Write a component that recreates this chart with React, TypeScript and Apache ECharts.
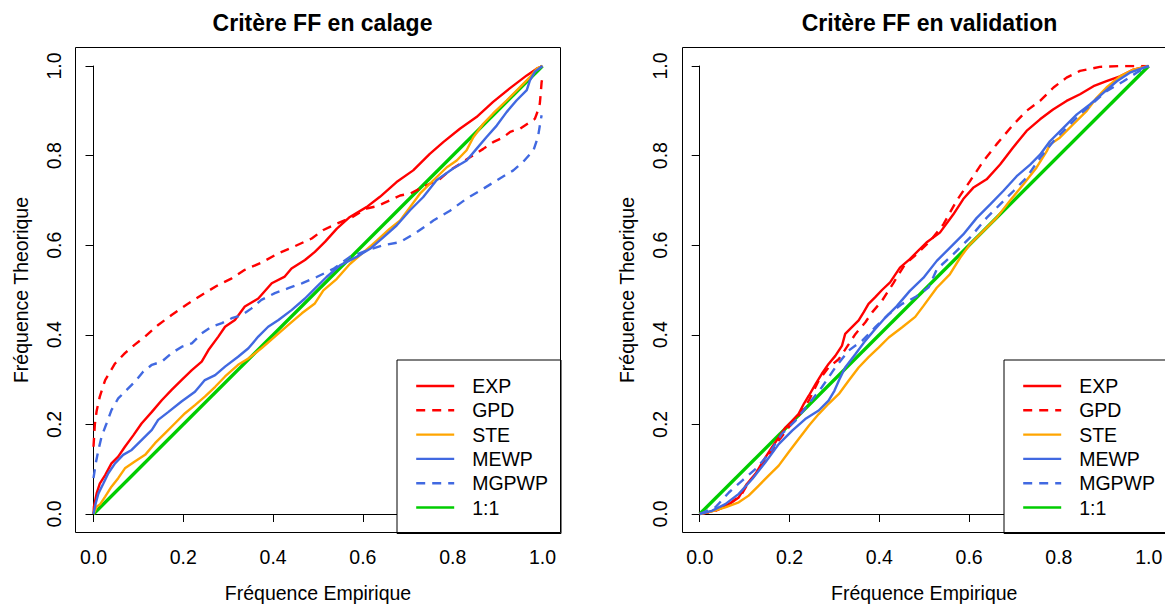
import React, { useEffect, useRef } from "react";
import * as echarts from "echarts";

type Pt = [number, number];

const seriesNames = ["EXP", "GPD", "STE", "MEWP", "MGPWP", "1:1"];
const titles = ["Critère FF en calage", "Critère FF en validation"];
const xTitle = "Fréquence Empirique";
const yTitle = "Fréquence Theorique";

const oneToOne: Pt[] = [[0, 0], [1, 1]];

// ---- Calage ----
const calEXP: Pt[] = [[0,0],[0.001,0.016],[0.007,0.046],[0.014,0.068],[0.026,0.087],[0.040,0.113],[0.055,0.128],[0.070,0.150],[0.089,0.176],[0.107,0.202],[0.130,0.228],[0.152,0.254],[0.174,0.277],[0.196,0.299],[0.219,0.321],[0.241,0.340],[0.256,0.366],[0.278,0.396],[0.293,0.418],[0.315,0.433],[0.337,0.463],[0.367,0.481],[0.397,0.515],[0.426,0.530],[0.441,0.548],[0.471,0.567],[0.493,0.585],[0.516,0.608],[0.542,0.637],[0.571,0.663],[0.608,0.685],[0.638,0.708],[0.675,0.741],[0.712,0.767],[0.749,0.804],[0.779,0.830],[0.816,0.860],[0.853,0.886],[0.890,0.920],[0.927,0.950],[0.965,0.979],[0.987,0.994],[1,1]];
const calGPD: Pt[] = [[0,0.15],[0.003,0.20],[0.007,0.23],[0.014,0.262],[0.026,0.299],[0.048,0.336],[0.070,0.359],[0.092,0.378],[0.115,0.396],[0.144,0.422],[0.174,0.444],[0.207,0.467],[0.241,0.489],[0.274,0.509],[0.308,0.526],[0.337,0.545],[0.374,0.561],[0.412,0.582],[0.449,0.598],[0.486,0.615],[0.512,0.634],[0.542,0.648],[0.575,0.662],[0.608,0.682],[0.631,0.687],[0.66,0.70],[0.683,0.711],[0.705,0.715],[0.734,0.730],[0.772,0.748],[0.794,0.767],[0.835,0.794],[0.868,0.815],[0.890,0.830],[0.913,0.841],[0.928,0.853],[0.95,0.86],[0.965,0.870],[0.983,0.882],[0.99,0.901],[0.994,0.916],[0.996,0.938],[0.998,0.964],[1.0,0.975]];
const calSTE: Pt[] = [[0,0],[0.007,0.016],[0.015,0.022],[0.026,0.039],[0.040,0.061],[0.055,0.080],[0.070,0.102],[0.092,0.117],[0.115,0.132],[0.137,0.158],[0.159,0.180],[0.181,0.202],[0.204,0.225],[0.226,0.243],[0.248,0.262],[0.271,0.284],[0.293,0.307],[0.322,0.333],[0.345,0.347],[0.374,0.370],[0.404,0.396],[0.434,0.422],[0.464,0.448],[0.493,0.470],[0.512,0.499],[0.542,0.525],[0.571,0.558],[0.601,0.584],[0.631,0.610],[0.660,0.637],[0.683,0.655],[0.705,0.685],[0.727,0.715],[0.757,0.745],[0.787,0.774],[0.809,0.789],[0.831,0.812],[0.846,0.841],[0.868,0.871],[0.890,0.894],[0.920,0.923],[0.950,0.953],[0.972,0.975],[0.987,0.994],[1,1]];
const calMEWP: Pt[] = [[0,0],[0.005,0.024],[0.011,0.046],[0.022,0.068],[0.033,0.091],[0.048,0.113],[0.066,0.132],[0.085,0.143],[0.107,0.165],[0.130,0.188],[0.144,0.210],[0.167,0.228],[0.196,0.251],[0.226,0.273],[0.248,0.299],[0.271,0.310],[0.293,0.329],[0.322,0.351],[0.345,0.370],[0.367,0.396],[0.389,0.418],[0.412,0.433],[0.441,0.455],[0.471,0.481],[0.493,0.503],[0.519,0.529],[0.549,0.555],[0.586,0.574],[0.616,0.592],[0.646,0.618],[0.675,0.644],[0.705,0.678],[0.734,0.707],[0.764,0.745],[0.801,0.771],[0.831,0.789],[0.853,0.815],[0.875,0.841],[0.898,0.867],[0.920,0.897],[0.942,0.923],[0.965,0.946],[0.972,0.968],[0.983,0.987],[1,1]];
const calMGPWP: Pt[] = [[0,0.08],[0.005,0.113],[0.011,0.143],[0.018,0.173],[0.029,0.202],[0.040,0.232],[0.055,0.258],[0.074,0.277],[0.092,0.295],[0.111,0.318],[0.130,0.333],[0.152,0.340],[0.174,0.359],[0.196,0.373],[0.219,0.381],[0.241,0.403],[0.263,0.418],[0.286,0.426],[0.308,0.437],[0.330,0.444],[0.352,0.459],[0.374,0.478],[0.404,0.493],[0.434,0.504],[0.464,0.515],[0.497,0.529],[0.534,0.547],[0.571,0.574],[0.608,0.588],[0.646,0.600],[0.683,0.607],[0.720,0.629],[0.757,0.655],[0.794,0.677],[0.831,0.704],[0.868,0.726],[0.905,0.749],[0.935,0.767],[0.957,0.786],[0.980,0.812],[0.990,0.842],[0.996,0.879],[0.998,0.89]];

// ---- Validation ----
const valEXP: Pt[] = [[0,0],[0.020,0.004],[0.042,0.011],[0.065,0.022],[0.087,0.037],[0.105,0.067],[0.124,0.089],[0.146,0.126],[0.161,0.149],[0.176,0.171],[0.191,0.193],[0.206,0.208],[0.220,0.223],[0.232,0.246],[0.243,0.264],[0.258,0.290],[0.272,0.313],[0.287,0.335],[0.302,0.353],[0.317,0.376],[0.324,0.402],[0.339,0.417],[0.354,0.432],[0.365,0.450],[0.376,0.469],[0.391,0.484],[0.406,0.500],[0.424,0.517],[0.446,0.550],[0.468,0.569],[0.505,0.606],[0.535,0.628],[0.565,0.669],[0.587,0.703],[0.609,0.728],[0.639,0.747],[0.669,0.780],[0.698,0.818],[0.728,0.855],[0.758,0.881],[0.787,0.903],[0.817,0.922],[0.847,0.937],[0.877,0.955],[0.906,0.966],[0.936,0.977],[0.966,0.992],[1,1]];
const valGPD: Pt[] = [[0,0],[0.035,0.007],[0.065,0.021],[0.094,0.045],[0.109,0.071],[0.131,0.097],[0.154,0.130],[0.176,0.164],[0.198,0.193],[0.220,0.219],[0.243,0.253],[0.265,0.298],[0.287,0.327],[0.310,0.346],[0.332,0.379],[0.347,0.402],[0.369,0.428],[0.384,0.450],[0.406,0.476],[0.431,0.515],[0.457,0.557],[0.483,0.580],[0.513,0.609],[0.543,0.647],[0.572,0.699],[0.602,0.743],[0.632,0.788],[0.661,0.825],[0.699,0.870],[0.728,0.900],[0.758,0.922],[0.788,0.952],[0.817,0.974],[0.847,0.989],[0.891,0.998],[0.936,1.0],[1,1]];
const valSTE: Pt[] = [[0,0],[0.027,0.006],[0.057,0.015],[0.087,0.026],[0.109,0.041],[0.131,0.063],[0.154,0.086],[0.176,0.108],[0.198,0.138],[0.220,0.167],[0.243,0.197],[0.265,0.223],[0.287,0.246],[0.310,0.268],[0.332,0.298],[0.354,0.327],[0.376,0.350],[0.399,0.372],[0.421,0.394],[0.451,0.417],[0.480,0.440],[0.498,0.464],[0.528,0.505],[0.557,0.535],[0.580,0.572],[0.602,0.602],[0.632,0.632],[0.661,0.661],[0.691,0.699],[0.721,0.736],[0.750,0.773],[0.773,0.810],[0.780,0.825],[0.802,0.840],[0.832,0.870],[0.862,0.900],[0.884,0.929],[0.906,0.952],[0.936,0.977],[0.966,0.992],[1,1]];
const valMEWP: Pt[] = [[0,0],[0.027,0.007],[0.057,0.022],[0.087,0.045],[0.117,0.078],[0.146,0.115],[0.176,0.156],[0.206,0.186],[0.235,0.212],[0.265,0.231],[0.287,0.253],[0.300,0.275],[0.310,0.298],[0.324,0.327],[0.347,0.357],[0.369,0.387],[0.391,0.413],[0.414,0.439],[0.439,0.464],[0.468,0.498],[0.498,0.527],[0.528,0.565],[0.557,0.594],[0.587,0.624],[0.617,0.661],[0.647,0.691],[0.676,0.721],[0.706,0.754],[0.736,0.780],[0.758,0.802],[0.780,0.832],[0.810,0.862],[0.840,0.892],[0.869,0.914],[0.899,0.940],[0.929,0.966],[0.958,0.985],[1,1]];
const valMGPWP: Pt[] = [[0,0],[0.035,0.015],[0.065,0.048],[0.094,0.074],[0.124,0.100],[0.154,0.134],[0.183,0.179],[0.213,0.208],[0.243,0.246],[0.272,0.283],[0.302,0.327],[0.332,0.365],[0.362,0.387],[0.391,0.417],[0.421,0.446],[0.451,0.469],[0.480,0.484],[0.510,0.506],[0.528,0.546],[0.565,0.580],[0.602,0.617],[0.639,0.661],[0.669,0.691],[0.699,0.721],[0.728,0.751],[0.758,0.795],[0.788,0.832],[0.817,0.862],[0.847,0.892],[0.877,0.918],[0.906,0.944],[0.944,0.966],[0.973,0.985],[1,1]];

const panels = [
  [calEXP, calGPD, calSTE, calMEWP, calMGPWP, oneToOne],
  [valEXP, valGPD, valSTE, valMEWP, valMGPWP, oneToOne],
];

const colors = ["#FF0000", "#FF0000", "#FFA500", "#4169E1", "#4169E1", "#00CD00"];
const dashed = [false, true, false, false, true, false];
const widths = [2.4, 2.4, 2.4, 2.4, 2.4, 3.4];

const FONT = "'Liberation Sans', Arial, sans-serif";

// panel geometry (pixels)
const gridLeft = [93.5, 699.7];
const boxLeft = [75, 682];

export default function App() {
  const ref = useRef<HTMLDivElement>(null);
  useEffect(() => {
    if (!ref.current) return;
    const chart = echarts.init(ref.current, null, { renderer: "svg" });

    const grids = gridLeft.map((l) => ({
      left: l,
      top: 66,
      width: 449,
      height: 448,
      containLabel: false,
      outerBoundsMode: "none",
    }));

    const axisText = { fontSize: 19.5, color: "#000", fontFamily: FONT };

    const xAxes = [0, 1].map((i) => ({
      gridIndex: i,
      type: "value",
      min: 0,
      max: 1,
      interval: 0.2,
      offset: 18,
      axisLine: { show: true, lineStyle: { color: "#000", width: 1 } },
      axisTick: { show: true, length: 8, lineStyle: { color: "#000", width: 1 } },
      axisLabel: { ...axisText, margin: 15, formatter: (v: number) => v.toFixed(1), showMinLabel: true, showMaxLabel: true },
      splitLine: { show: false },
      name: xTitle,
      nameLocation: "middle",
      nameGap: 51,
      nameTextStyle: axisText,
    }));

    const yAxes = [0, 1].map((i) => ({
      gridIndex: i,
      type: "value",
      min: 0,
      max: 1,
      interval: 0.2,
      offset: 18,
      axisLine: { show: true, lineStyle: { color: "#000", width: 1 } },
      axisTick: { show: true, length: 8, lineStyle: { color: "#000", width: 1 } },
      axisLabel: { ...axisText, margin: 12, rotate: 90, formatter: (v: number) => v.toFixed(1), showMinLabel: true, showMaxLabel: true },
      splitLine: { show: false },
      name: yTitle,
      nameLocation: "middle",
      nameGap: 45,
      nameTextStyle: axisText,
    }));

    const series: any[] = [];
    panels.forEach((pdata, gi) => {
      const order = [5, 0, 1, 2, 3, 4];
      order.forEach((k) => {
        series.push({
          type: "line",
          name: seriesNames[k],
          data: pdata[k],
          xAxisIndex: gi,
          yAxisIndex: gi,
          symbol: "none",
          showSymbol: false,
          silent: true,
          lineStyle: { color: colors[k], width: widths[k], type: dashed[k] ? [9, 7] : "solid" },
          itemStyle: { color: colors[k] },
        });
      });
    });

    const legends = [
      { left: 397, top: 360 },
      { left: 1004, top: 360 },
    ].map((p) => ({
      ...p,
      orient: "vertical",
      data: seriesNames,
      itemWidth: 38,
      itemHeight: 14,
      itemGap: 4.3,
      padding: [16, 13, 16, 18],
      borderColor: "#000",
      borderWidth: 1,
      backgroundColor: "#fff",
      selectedMode: false,
      itemStyle: { opacity: 0, borderWidth: 0 },
      lineStyle: { width: 2.4 },
      textStyle: { fontSize: 19.5, color: "#000", fontFamily: FONT, padding: [0, 0, 0, 13] },
    }));

    const option: any = {
      animation: false,
      textStyle: { fontFamily: FONT },
      title: titles.map((t, i) => ({
        text: t,
        left: boxLeft[i] + 242.5,
        top: 6,
        textAlign: "center",
        textStyle: { fontSize: 23, fontWeight: "bold", color: "#000", fontFamily: FONT },
      })),
      grid: grids,
      xAxis: xAxes,
      yAxis: yAxes,
      legend: legends,
      series,
      graphic: boxLeft.map((l) => ({
        type: "rect",
        silent: true,
        z: 5,
        shape: { x: l + 0.5, y: 47.5, width: 485, height: 485 },
        style: { fill: "none", stroke: "#000", lineWidth: 1 },
      })),
    };

    chart.setOption(option);
    return () => chart.dispose();
  }, []);

  return (
    <div
      ref={ref}
      style={{ position: "absolute", left: 0, top: 0, width: 1165, height: 605, background: "#fff" }}
    />
  );
}
